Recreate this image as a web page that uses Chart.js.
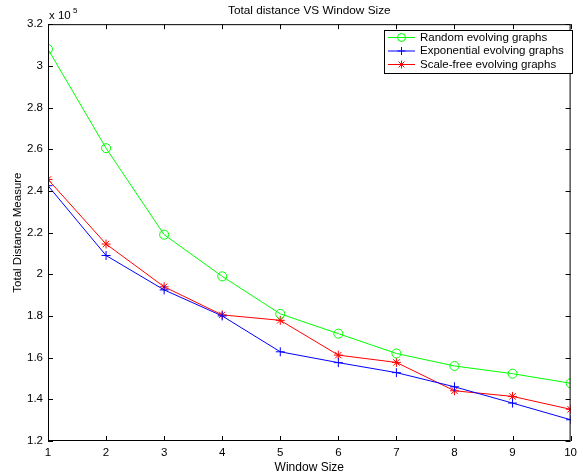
<!DOCTYPE html>
<html>
<head>
<meta charset="utf-8">
<script src="https://cdn.jsdelivr.net/npm/chart.js@4/dist/chart.umd.min.js"></script>
<style>
  html, body { margin: 0; padding: 0; background: #fff; }
  #wrap { width: 582px; height: 475px; position: relative; }
</style>
</head>
<body>
<div id="wrap"><canvas id="chart"></canvas></div>
<script>
// window sizes on the x axis
const windowSizes = [1, 2, 3, 4, 5, 6, 7, 8, 9, 10];
// total distance, in units of 10^5
const randomGraphs      = [3.08, 2.605, 2.19, 1.99, 1.81, 1.715, 1.62, 1.56, 1.523, 1.477];
const exponentialGraphs = [2.425, 2.09, 1.925, 1.80, 1.628, 1.576, 1.528, 1.46, 1.382, 1.302];
const scaleFreeGraphs   = [2.455, 2.145, 1.94, 1.805, 1.779, 1.612, 1.577, 1.441, 1.414, 1.352];
const yTicks = [1.2, 1.4, 1.6, 1.8, 2, 2.2, 2.4, 2.6, 2.8, 3, 3.2];
const seriesNames = ['Random evolving graphs', 'Exponential evolving graphs', 'Scale-free evolving graphs'];

const FONT = "'Liberation Sans', Arial, Helvetica, sans-serif";

function toPoints(values) {
    return windowSizes.map((w, i) => ({ x: w, y: values[i] }));
}

// рисует маркер как в matlab
function drawMarker(ctx, style, x, y, r) {
    ctx.beginPath();
    if (style === 'circle') {
        ctx.arc(x, y, r, 0, Math.PI * 2);
    } else {
        ctx.moveTo(x - r, y); ctx.lineTo(x + r, y);
        ctx.moveTo(x, y - r); ctx.lineTo(x, y + r);
        if (style === 'star') {
            const d = r * 0.72;
            ctx.moveTo(x - d, y - d); ctx.lineTo(x + d, y + d);
            ctx.moveTo(x - d, y + d); ctx.lineTo(x + d, y - d);
        }
    }
    ctx.stroke();
}

// box, inward ticks, legend and the exponent label
const matlabBox = {
    id: 'matlabBox',
    afterDraw(chart) {
        const ctx = chart.ctx;
        const a = chart.chartArea;
        const xs = chart.scales.x, ys = chart.scales.y;
        ctx.save();
        ctx.strokeStyle = '#000';
        ctx.lineWidth = 1;
        ctx.strokeRect(a.left + 0.5, a.top + 0.5, a.right - a.left - 1, a.bottom - a.top - 1);

        const len = 5;
        ctx.beginPath();
        windowSizes.forEach(v => {
            const px = Math.round(xs.getPixelForValue(v)) + 0.5;
            ctx.moveTo(px, a.bottom); ctx.lineTo(px, a.bottom - len);
            ctx.moveTo(px, a.top); ctx.lineTo(px, a.top + len);
        });
        yTicks.forEach(v => {
            const py = Math.round(ys.getPixelForValue(v)) + 0.5;
            ctx.moveTo(a.left, py); ctx.lineTo(a.left + len, py);
            ctx.moveTo(a.right, py); ctx.lineTo(a.right - len, py);
        });
        ctx.stroke();

        // x 10^5
        ctx.fillStyle = '#000';
        ctx.textBaseline = 'alphabetic';
        ctx.textAlign = 'left';
        ctx.font = '11.5px ' + FONT;
        ctx.fillText('x 10', a.left + 1, a.top - 5);
        ctx.font = '8px ' + FONT;
        ctx.fillText('5', a.left + 25, a.top - 11);

        // legend
        const lx = 384, ly = 30, lw = 188, lh = 43;
        ctx.fillStyle = '#fff';
        ctx.fillRect(lx, ly, lw, lh);
        ctx.strokeStyle = '#000';
        ctx.strokeRect(lx + 0.5, ly + 0.5, lw, lh);
        ctx.font = '11.5px ' + FONT;
        ctx.textBaseline = 'middle';
        chart.data.datasets.forEach((ds, i) => {
            const y = ly + 7.5 + i * 13.5;
            ctx.strokeStyle = ds.borderColor;
            ctx.beginPath();
            ctx.moveTo(lx + 4, y); ctx.lineTo(lx + 31, y);
            ctx.stroke();
            drawMarker(ctx, ds.pointStyle, lx + 17.5, y, 4);
            ctx.fillStyle = '#000';
            ctx.fillText(ds.label, lx + 36, y);
        });
        ctx.restore();
    }
};

// серии
const datasets = [
    { label: seriesNames[0], data: toPoints(randomGraphs), borderColor: '#00ff00', pointStyle: 'circle' },
    { label: seriesNames[1], data: toPoints(exponentialGraphs), borderColor: '#0000ff', pointStyle: 'cross' },
    { label: seriesNames[2], data: toPoints(scaleFreeGraphs), borderColor: '#ff0000', pointStyle: 'star' }
].map(ds => Object.assign(ds, {
    backgroundColor: 'rgba(0,0,0,0)',
    pointBorderColor: ds.borderColor,
    pointBackgroundColor: 'rgba(0,0,0,0)',
    borderWidth: 1,
    pointBorderWidth: 1,
    pointRadius: 4.5,
    tension: 0
}));

new Chart(document.getElementById('chart'), {
    type: 'line',
    data: { datasets: datasets },
    options: {
        responsive: true,
        maintainAspectRatio: false,
        animation: false,
        layout: { padding: { top: 1, right: 5, left: 0, bottom: 0 } },
        plugins: {
            legend: { display: false },
            tooltip: { enabled: false },
            title: {
                display: true,
                fullSize: false,
                text: 'Total distance VS Window Size',
                color: '#000',
                font: { family: FONT, size: 11.8, weight: 'normal' },
                padding: { top: 3, bottom: 6 }
            }
        },
        scales: {
            x: {
                type: 'linear',
                min: 1, max: 10,
                afterBuildTicks: s => { s.ticks = windowSizes.map(v => ({ value: v })); },
                afterFit: s => { s.height = 34; },
                grid: { display: false, drawTicks: false },
                border: { display: false },
                ticks: { color: '#000', padding: 5, maxRotation: 0, font: { family: FONT, size: 11.5 } },
                title: { display: true, text: 'Window Size', color: '#000', padding: { top: 0, bottom: 0 }, font: { family: FONT, size: 12 } }
            },
            y: {
                min: 1.2, max: 3.2,
                afterBuildTicks: s => { s.ticks = yTicks.map(v => ({ value: v })); },
                afterFit: s => { s.width = 48; },
                grid: { display: false, drawTicks: false },
                border: { display: false },
                ticks: {
                    color: '#000', padding: 5, font: { family: FONT, size: 11.5 },
                    callback: v => String(parseFloat(v.toFixed(1)))
                },
                title: { display: true, text: 'Total Distance Measure', color: '#000', padding: { top: 11, bottom: 0 }, font: { family: FONT, size: 11.5 } }
            }
        }
    },
    plugins: [matlabBox]
});
</script>
</body>
</html>
